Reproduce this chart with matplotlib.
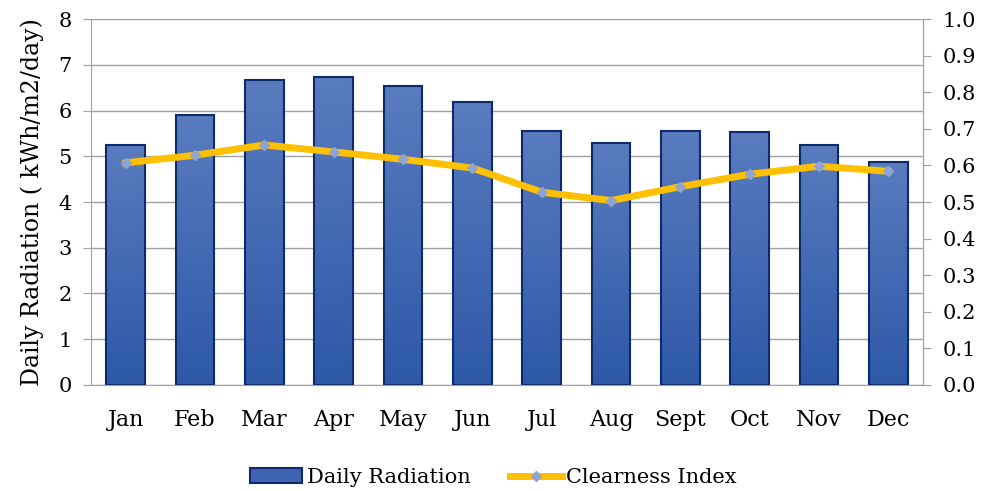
import numpy as np
import matplotlib.pyplot as plt
from matplotlib.lines import Line2D
from matplotlib.patches import Patch
from matplotlib.colors import LinearSegmentedColormap

plt.rcParams['font.family'] = ['DejaVu Serif']

months = ['Jan', 'Feb', 'Mar', 'Apr', 'May', 'Jun', 'Jul', 'Aug', 'Sept', 'Oct', 'Nov', 'Dec']
radiation = [5.25, 5.90, 6.67, 6.73, 6.54, 6.19, 5.55, 5.29, 5.55, 5.53, 5.25, 4.87]
clearness = [0.607, 0.628, 0.656, 0.637, 0.617, 0.593, 0.527, 0.504, 0.542, 0.576, 0.598, 0.584]

fig = plt.figure(figsize=(9.87, 4.91), dpi=100)
ax = fig.add_axes([0.0922, 0.216, 0.843, 0.745])
x = np.arange(len(months))

bars = ax.bar(x, radiation, width=0.56, color='#4468b5', edgecolor='#0d2a6b',
              linewidth=1.5, zorder=2)

# vertical gradient inside each bar
grad = np.linspace(0, 1, 256).reshape(-1, 1)
cmap = LinearSegmentedColormap.from_list('g', ['#2d59a8', '#5a7bbf'])
for b in bars:
    bx, by = b.get_x(), b.get_y()
    w, h = b.get_width(), b.get_height()
    im = ax.imshow(grad, extent=[bx, bx + w, by, by + h], origin='lower',
                   cmap=cmap, aspect='auto', zorder=2.1)
    im.set_clip_path(b)
    b.set_facecolor('none')
    b.set_zorder(2.2)

ax.set_xlim(-0.5, 11.5)
ax.set_ylim(0, 8)
ax.set_yticks(range(0, 9))
ax.set_xticks(x)
ax.set_xticklabels(months, fontsize=16)
ax.tick_params(axis='y', labelsize=15, color='#a0a0a0', length=6, pad=8)
ax.tick_params(axis='x', length=0, pad=17)
ax.grid(axis='y', color='#a0a0a0', linewidth=1, zorder=0)
ax.set_axisbelow(True)
ax.spines['top'].set_visible(False)
for s in ['left', 'right', 'bottom']:
    ax.spines[s].set_color('#a0a0a0')
ax.set_ylabel('Daily Radiation ( kWh/m2/day)', fontsize=17, labelpad=10)

ax2 = ax.twinx()
ax2.plot(x, clearness, color='#ffc000', linewidth=5, marker='D', markersize=5,
         markerfacecolor='#8fa4d0', markeredgecolor='#8fa4d0', zorder=3)
ax2.set_ylim(0, 1.0)
ax2.set_yticks(np.arange(0, 1.01, 0.1))
ax2.set_yticklabels([f'{v:.1f}' for v in np.arange(0, 1.01, 0.1)])
ax2.tick_params(axis='y', labelsize=15, color='#a0a0a0', length=6, pad=8)
for s in ['top', 'left', 'bottom']:
    ax2.spines[s].set_visible(False)
ax2.spines['right'].set_color('#a0a0a0')

handles = [Patch(facecolor='#3f64b2', edgecolor='#0d2a6b', linewidth=1.5),
           Line2D([0], [0], color='#ffc000', linewidth=5, marker='D', markersize=5,
                  markerfacecolor='#8fa4d0', markeredgecolor='#8fa4d0')]
fig.legend(handles, ['Daily Radiation', 'Clearness Index'], loc='lower center',
           bbox_to_anchor=(0.5, -0.03), ncol=2, frameon=False, fontsize=15,
           columnspacing=1.9, handlelength=2.5, handletextpad=0.2)

fig.savefig('out.png', dpi=100)
